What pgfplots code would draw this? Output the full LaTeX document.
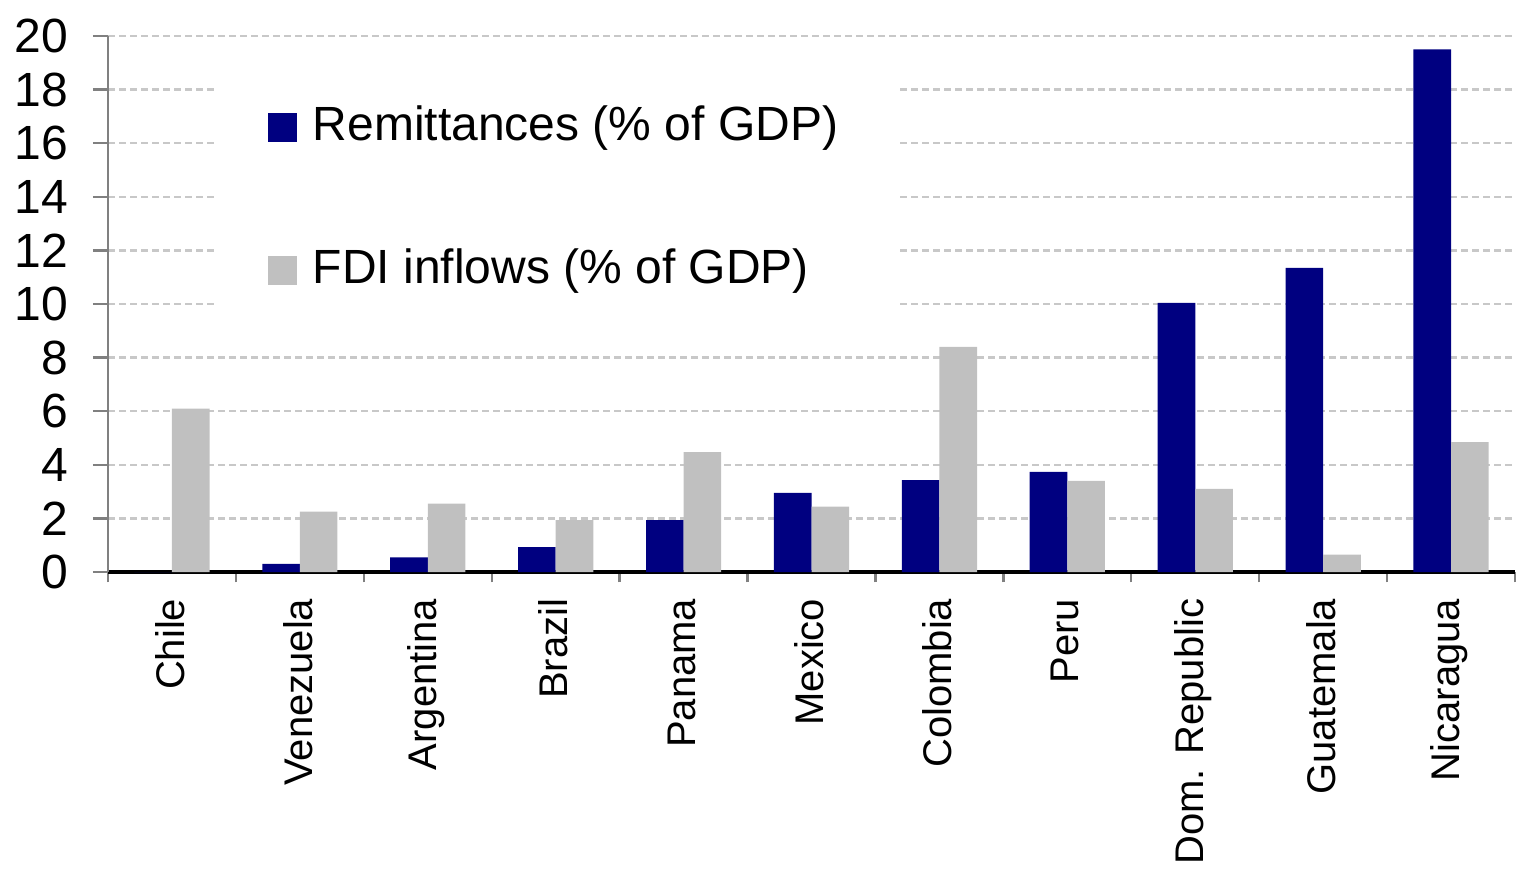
\documentclass[border=0pt]{standalone}
\usepackage{fontspec}
\setmainfont{Liberation Sans}
\usepackage{pgfplots}
\pgfplotsset{compat=1.18}

\definecolor{remit}{RGB}{0,0,128}
\definecolor{fdi}{RGB}{192,192,192}
\definecolor{gridc}{RGB}{200,200,200}

\pgfplotsset{
  sq legend/.style={legend image code/.code={\fill[##1,draw=none] (0pt,-3.7pt) rectangle (7.25pt,3.55pt);}},
}

\begin{document}
\fontsize{12}{14}\selectfont
\begin{tikzpicture}
\useasboundingbox (-27pt,-74pt) rectangle (352pt,143pt);
\begin{axis}[
  at={(0pt,0pt)}, anchor=south west,
  scale only axis, width=351.75pt, height=134pt,
  ybar=0pt, bar width=9.4pt,
  xmin=-0.5, xmax=10.5, ymin=0, ymax=20,
  axis x line*=bottom, axis y line*=left,
  x axis line style={black, line width=0.8pt},
  y axis line style={gray, line width=0.5pt},
  tick align=outside,
  major tick length=3.75pt, minor tick length=2.6pt,
  xtick={0,...,10},
  minor xtick={-0.5,0.5,...,10.5},
  major x tick style={draw=none},
  minor x tick style={draw=gray, line width=0.6pt},
  major y tick style={draw=gray, line width=0.6pt},
  ytick={0,2,...,20},
  ymajorgrids,
  major grid style={gridc, line width=0.6pt, dash pattern=on 1.75pt off 1pt},
  /pgf/number format/assume math mode=true,
  yticklabel style={font=\fontsize{12}{14}\selectfont, xshift=-2pt},
  xticklabels={Chile,Venezuela,Argentina,Brazil,Panama,Mexico,Colombia,Peru,Dom. Republic,Guatemala,Nicaragua},
  xticklabel style={font=\fontsize{10}{12}\selectfont, rotate=90, anchor=east, yshift=0.5pt, xshift=1.25pt},
  legend style={at={(0.0746,0.908)}, anchor=north west, fill=white, draw=none,
    inner xsep=13.5pt, inner ysep=3pt, row sep=21.25pt,
    font=\fontsize{12}{14}\selectfont,
    /tikz/every odd column/.append style={column sep=2pt}},
  legend cell align=left,
]
\addplot[fill=remit, draw=none, sq legend] coordinates {
  (0,0) (1,0.3) (2,0.55) (3,0.93) (4,1.94) (5,2.95) (6,3.43) (7,3.74) (8,10.04) (9,11.35) (10,19.5)
};
\addplot[fill=fdi, draw=none, sq legend] coordinates {
  (0,6.1) (1,2.25) (2,2.55) (3,1.94) (4,4.47) (5,2.44) (6,8.4) (7,3.4) (8,3.1) (9,0.65) (10,4.85)
};
\legend{Remittances (\% of GDP), FDI inflows (\% of GDP)}
\end{axis}
\end{tikzpicture}
\end{document}
